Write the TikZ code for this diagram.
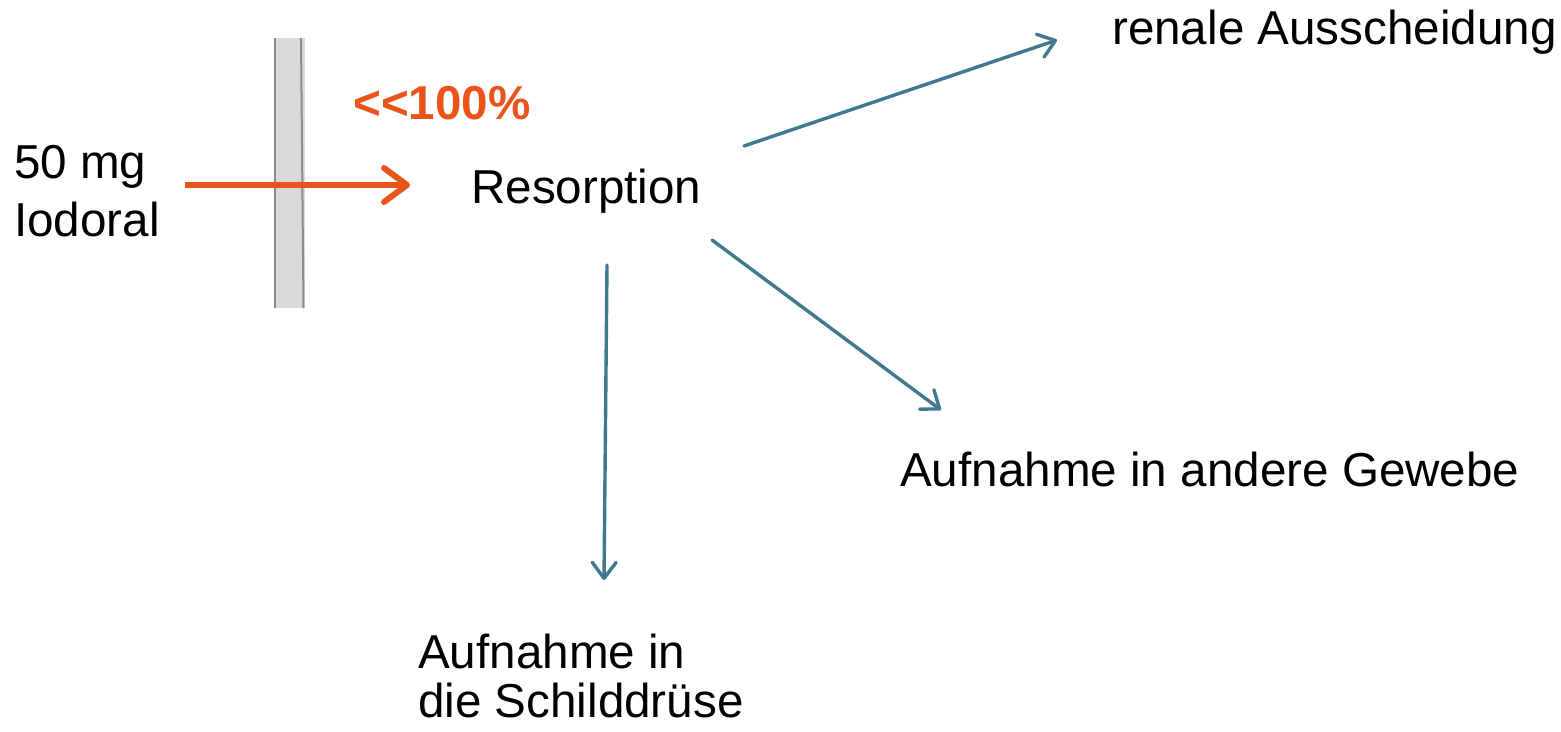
\documentclass[tikz,border=0pt]{standalone}
\usepackage{fontspec}
\setmainfont{Liberation Sans}
\usetikzlibrary{arrows.meta}
\definecolor{flowblue}{RGB}{64,121,143}
\definecolor{dose}{RGB}{232,84,26}
\definecolor{membfill}{RGB}{217,217,217}
\definecolor{membedge}{RGB}{140,140,140}
\tikzset{
  lbl/.style={anchor=base west, inner sep=0pt, font=\fontsize{47.6}{56}\selectfont, text=black},
  pct/.style={anchor=base west, inner sep=0pt, font=\fontsize{47.6}{56}\selectfont\bfseries, text=dose},
  flow/.style={draw=flowblue, line width=3.4pt, line cap=round,
    -{Straight Barb[length=16pt,width=24pt,line width=3.4pt,round]}},
  doseflow/.style={draw=dose, line width=6.5pt,
    -{Straight Barb[length=23pt,width=34pt,line width=6pt,round]}},
}
\begin{document}
\begin{tikzpicture}[x=1pt,y=-1pt]
\useasboundingbox (0,0) rectangle (1561,731);
% membrane
\fill[membfill] (275,38) rectangle (305,308);
\draw[membedge, line width=2pt] (275,38) -- (275,308);
\draw[membedge, line width=2pt] (301,38) -- (303.5,308);
% texts
\node[lbl] (dose1) at (14,178) {50 mg};
\node[lbl] (dose2) at (14,236) {Iodoral};
\node[pct] (pct) at (353,119) {<{}<100\%};
\node[lbl] (res) at (471,203) {Resorption};
\node[lbl] (ren) at (1112,44) {renale Ausscheidung};
\node[lbl] (gew) at (900,486) {Aufnahme in andere Gewebe};
\node[lbl] (sd1) at (418,668) {Aufnahme in};
\node[lbl] (sd2) at (418,717) {die Schilddrüse};
% connector endpoints
\coordinate (dstart) at (185,185);
\coordinate (dend) at (410,185);
\coordinate (rA) at (744,146);
\coordinate (rB) at (1057,40);
\coordinate (gA) at (712,240);
\coordinate (gB) at (941,410);
\coordinate (sA) at (607,265);
\coordinate (sB) at (604,580);
% connectors
\draw[doseflow] (dstart) -- (dend);
\draw[flow] (rA) -- (rB);
\draw[flow] (gA) -- (gB);
\draw[flow] (sA) -- (sB);
\end{tikzpicture}
\end{document}
